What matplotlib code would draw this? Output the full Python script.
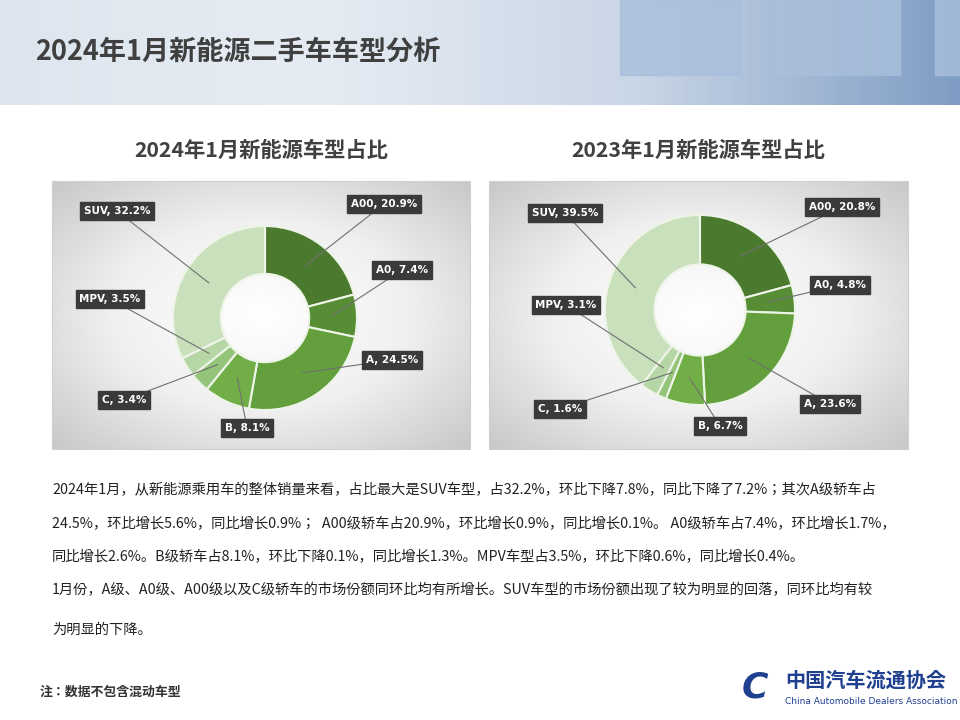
import os
import matplotlib
matplotlib.use("Agg")
import matplotlib.pyplot as plt
import numpy as np
from matplotlib.patches import Rectangle
from matplotlib.font_manager import FontProperties

FDIR = "/usr/share/fonts/opentype/noto/"
if os.path.exists(FDIR + "NotoSansCJK-Regular.ttc"):
    REG = FontProperties(fname=FDIR + "NotoSansCJK-Regular.ttc")
    BOLD = FontProperties(fname=FDIR + "NotoSansCJK-Bold.ttc")
else:
    REG = FontProperties(family="Noto Sans CJK SC")
    BOLD = FontProperties(family="Noto Sans CJK SC", weight="bold")


def fp(base, size):
    p = base.copy()
    p.set_size(size)
    return p


CATEGORIES = ["A00", "A0", "A", "B", "C", "MPV", "SUV"]
SHARE_2024 = [20.9, 7.4, 24.5, 8.1, 3.4, 3.5, 32.2]
SHARE_2023 = [20.8, 4.8, 23.6, 6.7, 1.6, 3.1, 39.5]
COLORS = ["#4b7a2e", "#568d35", "#63a03d", "#71ae48", "#94c47a", "#b7d6a6", "#c9e0bd"]

PARAS = [
    "2024年1月，从新能源乘用车的整体销量来看，占比最大是SUV车型，占32.2%，环比下降7.8%，同比下降了7.2%；其次A级轿车占",
    "24.5%，环比增长5.6%，同比增长0.9%；  A00级轿车占20.9%，环比增长0.9%，同比增长0.1%。 A0级轿车占7.4%，环比增长1.7%，",
    "同比增长2.6%。B级轿车占8.1%，环比下降0.1%，同比增长1.3%。MPV车型占3.5%，环比下降0.6%，同比增长0.4%。",
    "1月份，A级、A0级、A00级以及C级轿车的市场份额同环比均有所增长。SUV车型的市场份额出现了较为明显的回落，同环比均有较",
    "为明显的下降。",
]

H = 720
fig = plt.figure(figsize=(9.6, 7.2), dpi=100)
ax = fig.add_axes([0, 0, 1, 1])
ax.set_xlim(0, 960); ax.set_ylim(0, H); ax.axis("off")

# header band
grad = np.linspace(0, 1, 300)[None, :]
ax.imshow(grad, extent=(0, 960, H - 105, H), cmap=matplotlib.colors.LinearSegmentedColormap.from_list(
    "hdr", ["#dde6ef", "#e6ecf3", "#c9d6e6", "#7f9dc4"]), aspect="auto", zorder=0)
for x0, w in [(620, 120), (775, 125), (935, 25)]:
    ax.add_patch(Rectangle((x0, H - 75), w, 75, color="#a9bfdc", alpha=0.8, zorder=1))
ax.text(35, H - 52, "2024年1月新能源二手车车型分析", fontproperties=fp(BOLD, 19.5),
        color="#404040", va="center")

# chart panels with radial gradient
yy, xx = np.mgrid[-1:1:200j, -1:1:300j]
rad = np.sqrt(xx ** 2 + yy ** 2)
panel_cmap = matplotlib.colors.LinearSegmentedColormap.from_list("pn", ["#ffffff", "#f0f0f0", "#c8c8c8"])

charts = [
    (SHARE_2024, "2024年1月新能源车型占比", (52, 470), (265, 318), 92,
     [(384, 204), (402, 270), (392, 360), (247, 428), (124, 400), (110, 299), (117, 211)]),
    (SHARE_2023, "2023年1月新能源车型占比", (489, 908), (700, 310), 95,
     [(842, 207), (840, 285), (830, 404), (720, 426), (560, 409), (566, 305), (565, 213)]),
]

for vals, title, (x0, x1), (cx, cy), r, label_pos in charts:
    ax.imshow(rad, extent=(x0, x1, H - 449, H - 181), cmap=panel_cmap, aspect="auto", zorder=1)
    ax.add_patch(Rectangle((x0, H - 449), x1 - x0, 268, fill=False, ec="#d0d0d0", lw=0.8, zorder=2))
    ax.text((x0 + x1) / 2, H - 150, title, ha="center", va="center", fontproperties=fp(BOLD, 15.3),
            color="#404040")
    wedges, _ = ax.pie(vals, colors=COLORS, startangle=90, counterclock=False,
                       center=(cx, H - cy), radius=r, frame=True,
                       wedgeprops=dict(width=r * 0.52, edgecolor="#eef5e8", linewidth=1.5))
    for w in wedges:
        w.set_zorder(3)
    total = sum(vals)
    start = 90.0
    for cat, v, (lx, ly) in zip(CATEGORIES, vals, label_pos):
        mid = np.deg2rad(start - v / total * 180)
        start -= v / total * 360
        px, py = cx + 0.72 * r * np.cos(mid), H - cy + 0.72 * r * np.sin(mid)
        ax.plot([px, lx], [py, H - ly], color="#707070", lw=0.8, zorder=4)
        ax.text(lx, H - ly, f"{cat}, {v}%", ha="center", va="center", fontsize=7.5,
                color="white", fontweight="bold", zorder=5,
                bbox=dict(boxstyle="square,pad=0.35", fc="#3a3a3a", ec="#3a3a3a"))

ax.set_xlim(0, 960); ax.set_ylim(0, H); ax.set_aspect("auto")

for line, y in zip(PARAS, [490, 523, 556, 590, 630]):
    ax.text(52, H - y, line, fontproperties=fp(REG, 10.3), color="#222222", va="center")

ax.text(40, H - 692, "注：数据不包含混动车型", fontproperties=fp(BOLD, 9.3), color="#333333", va="center")
ax.text(785, H - 680, "中国汽车流通协会", fontproperties=fp(BOLD, 14.5), color="#1f3f8f", va="center")
ax.text(785, H - 702, "China Automobile Dealers Association", fontsize=6.5, color="#1f3f8f", va="center")
ax.text(755, H - 688, "C", fontsize=26, fontweight="bold", color="#1f3f8f", va="center", ha="center",
        style="italic")

fig.savefig("out.png", dpi=100)
